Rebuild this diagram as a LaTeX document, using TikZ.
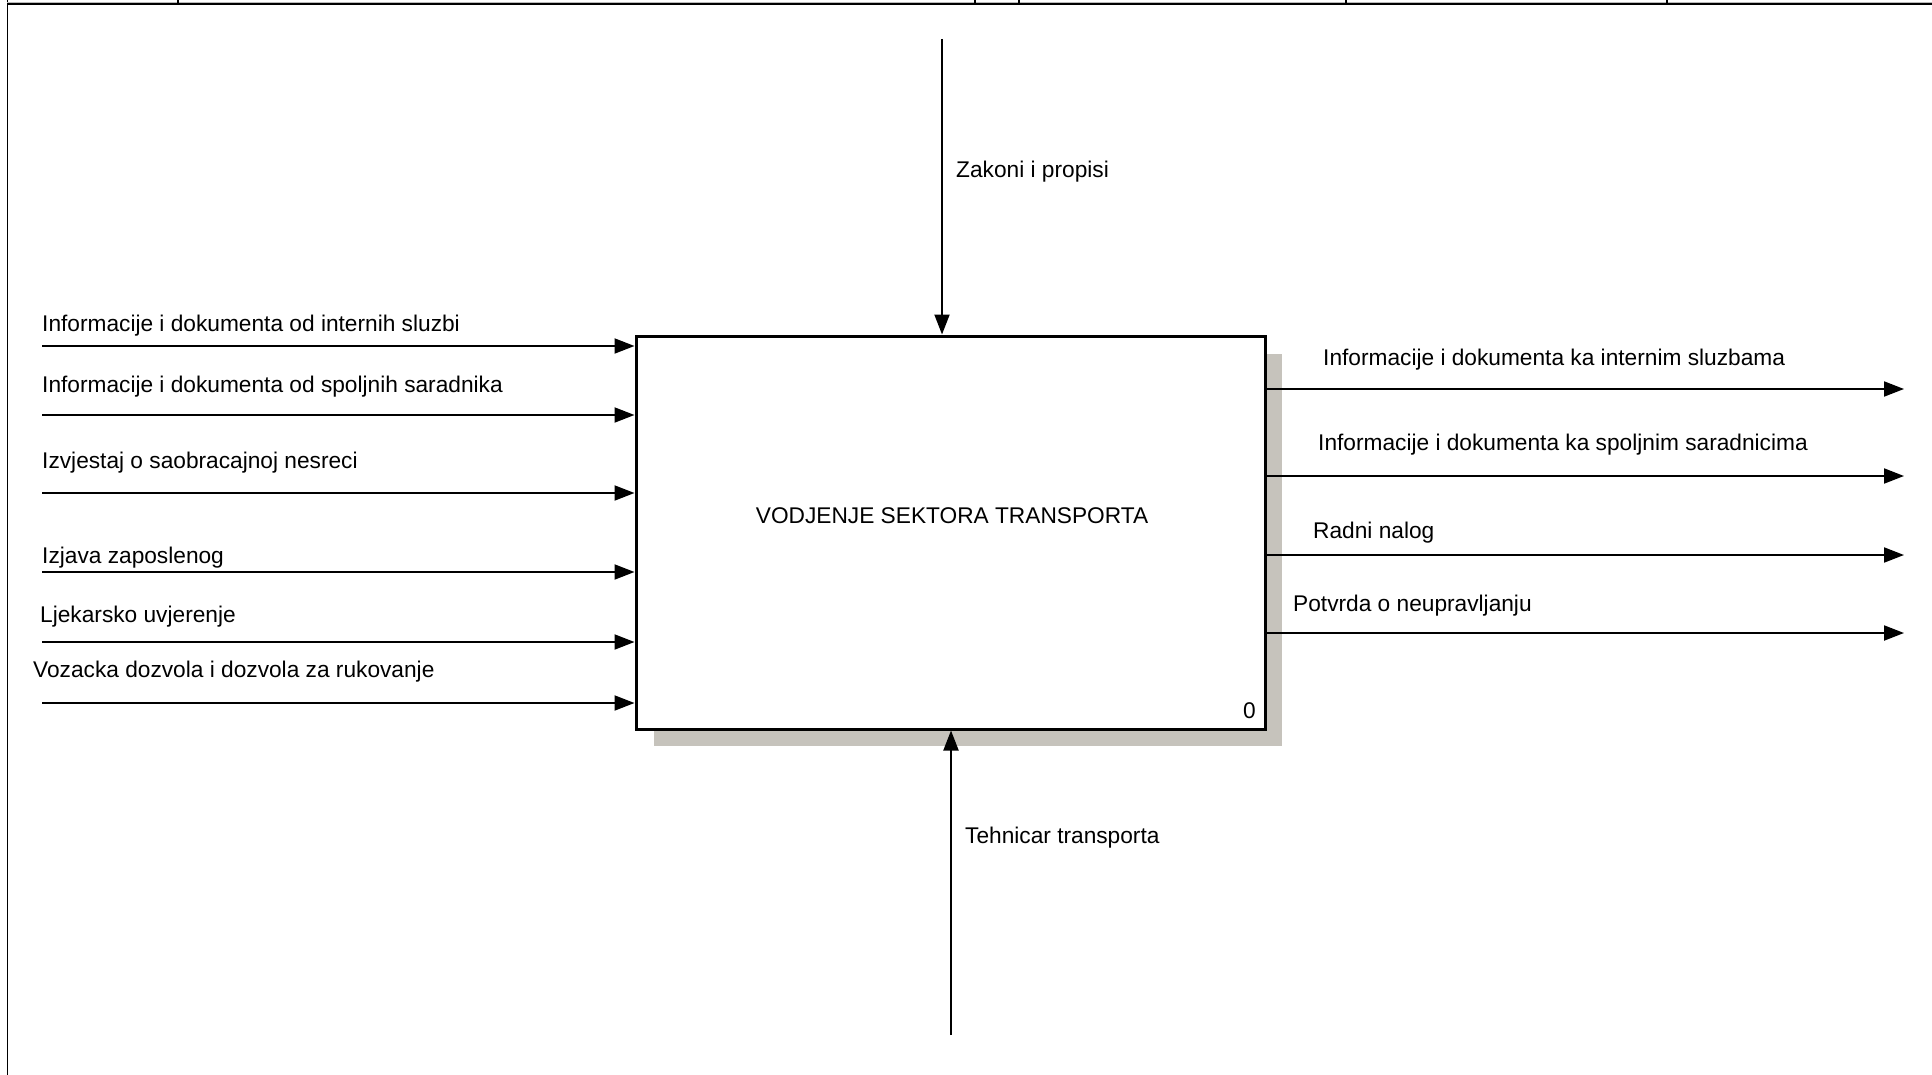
\documentclass[tikz,border=0pt]{standalone}
\usepackage{fontspec}
\setmainfont{Liberation Sans}
\usepackage{xcolor}
\usepackage{tikz}
\usetikzlibrary{arrows.meta,calc}
\definecolor{shadowgray}{RGB}{198,195,188}

\begin{document}
\begin{tikzpicture}[x=1pt, y=-1pt, >={Triangle[length=20pt,width=15pt]},
	func/.style={rectangle, draw, line width=3pt, fill=white, minimum width=629pt, minimum height=393pt, inner sep=0pt},
	lbl/.style={inner sep=0pt, font=\fontsize{22.7}{27}\selectfont},
	flow/.style={->, line width=2pt}]
	\useasboundingbox (0,0) rectangle (1932,1075);
	% frame of the form
	\draw[line width=1pt] (7,0) -- (7,1075);
	\draw[line width=3pt, gray!55] (7,4) -- (1932,4);
	\draw[line width=1.2pt] (7,4) -- (1932,4);
	\foreach \tx in {178,975,1019,1346,1667}
		\draw[line width=1.2pt] (\tx,0) -- (\tx,4);
	
	% shadow and function box
	\fill[shadowgray] (654,354) rectangle (1282,746);
	\node[func] (box) at (950.5,532.5) {};
	\node[lbl, anchor=base] (title) at (952,523) {VODJENJE SEKTORA TRANSPORTA};
	\node[lbl, anchor=base east] (num) at (1256,718) {0};
	
	% control and mechanism
	\coordinate (c1) at (942,39);
	\coordinate (m1) at (951,1035);
	\draw[flow] (c1) -- (c1 |- box.north);
	\draw[flow] (m1) -- (m1 |- box.south);
	\node[lbl, anchor=base west] (lc1) at (956,178) {Zakoni i propisi};
	\node[lbl, anchor=base west] (lm1) at (965,843) {Tehnicar transporta};
	
	% inputs
	\coordinate (i1) at (42,346);
	\coordinate (i2) at (42,415);
	\coordinate (i3) at (42,493);
	\coordinate (i4) at (42,572);
	\coordinate (i5) at (42,642);
	\coordinate (i6) at (42,703);
	\foreach \n in {i1,i2,i3,i4,i5,i6}
		\draw[flow] (\n) -- (\n -| box.west);
	\node[lbl, anchor=base west] (li1) at (42,331) {Informacije i dokumenta od internih sluzbi};
	\node[lbl, anchor=base west] (li2) at (42,392) {Informacije i dokumenta od spoljnih saradnika};
	\node[lbl, anchor=base west] (li3) at (42,468) {Izvjestaj o saobracajnoj nesreci};
	\node[lbl, anchor=base west] (li4) at (42,563) {Izjava zaposlenog};
	\node[lbl, anchor=base west] (li5) at (40,622) {Ljekarsko uvjerenje};
	\node[lbl, anchor=base west] (li6) at (33,677) {Vozacka dozvola i dozvola za rukovanje};
	
	% outputs
	\coordinate (o1) at (1904,389);
	\coordinate (o2) at (1904,476);
	\coordinate (o3) at (1904,555);
	\coordinate (o4) at (1904,633);
	\foreach \n in {o1,o2,o3,o4}
		\draw[flow] (\n -| box.east) -- (\n);
	\node[lbl, anchor=base west] (lo1) at (1323,365) {Informacije i dokumenta ka internim sluzbama};
	\node[lbl, anchor=base west] (lo2) at (1318,450) {Informacije i dokumenta ka spoljnim saradnicima};
	\node[lbl, anchor=base west] (lo3) at (1313,538) {Radni nalog};
	\node[lbl, anchor=base west] (lo4) at (1293,611) {Potvrda o neupravljanju};
\end{tikzpicture}
\end{document}
